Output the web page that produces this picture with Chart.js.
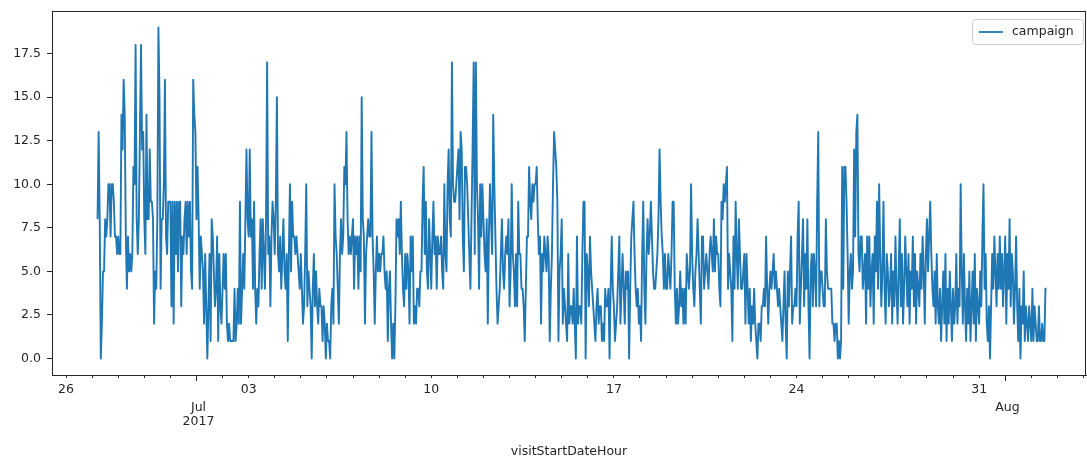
<!DOCTYPE html>
<html>
<head>
<meta charset="utf-8">
<script src="https://cdn.jsdelivr.net/npm/chart.js@4.4.1/dist/chart.umd.min.js"></script>
<style>
  html, body { margin: 0; padding: 0; background: #fff; overflow: hidden; }
</style>
</head>
<body>
<canvas id="chart" width="1087" height="463"></canvas>
<script>
// x values are hours since 2017-06-26 00:00, the series is hourly
const startHour = 29; // 2017-06-27 05:00

// campaign visits per hour in consecutive chunks
const campaignJun27 = [8,13,8,0,2,5,5,8,7,8, 10,10,7,10,10,9,7,7,6,7, 6,6,14,12,16,14,7,4,7,5,
  6,5,6,11,10,18,8,6,8,13, 18,12,13,8,6,14,8,8,12,9, 9,8,2,5,4,8,19,15,4,8,
  8,10,16,7,6,9,9,9,3,9, 2,9,6,9,5,9,9,3,7,6, 8];
const campaignJun30 = [9,6,9,7,9,5,4,16,14,13, 8,11,8,4,7,6,5,2,6,3, 0,3,6,1,8,7,5,3,4,7,
  1,6,3,2,4,6,4,6,2,1, 2,1,1,1,1,4,1,2,4,2, 9,2,4,6,4,8,12,8,7,12,
  7,8,4,9,4,2,4,3,6,8, 4,8,6,4,8,17,6,7,3,7, 9,8,6,9,15,6,5,7,4,6, 8,5];
const campaignJul04 = [4,6,1,6,10,5,9,7,7,6, 7,6,5,4,6,4,2,3,6,10, 3,5,4,3,0,4,6,3,5,3,
  2,4,3,3,1,3,2,0,2,1, 1,0,3,4,2,10,7,6,4,2, 6,8,6,7,11,10,13,8,6,7,
  6,7,8,4,7,6,7,4,7,5, 15,8,7,2,6,7,8,7,7,13, 7,5,2,5,7,5,6,5,6,6];
const campaignJul08 = [7,5,4,5,1,4,5,2,0,2, 0,3,8,7,8,6,9,6,4,3, 6,4,6,5,2,7,5,7,2,3,
  2,4,4,3,5,5,9,11,6,9, 5,4,8,6,4,7,9,6,7,4, 7,6,6,7,5,4,10,6,5,10,
  12,8,7,17,10,9,9,10,11,12, 8,13,12,7,5,11,11,10,8,6, 4,8,12,17,6,17,10,8,4];
const campaignJul11 = [10,7,10,8,6,5,8,2,7,10, 8,6,14,10,7,4,2,3,4,6, 8,5,4,6,7,6,8,3,5,10,
  6,5,3,6,3,9,6,6,4,4, 3,1,4,7,7,11,9,8,10,9, 10,10,11,8,6,7,2,6,5,7,
  6,5,7,6,1,4,6,10,13,12, 11,9,1,5,6,8,2,4,3,2, 1,6,2,3,3,2,4,2,0];
const campaignJul15 = [7,2,3,3,2,6,9,9,0,6, 5,3,7,5,4,3,2,1,3,4, 2,3,3,1,2,1,4,3,3,4,
  0,4,7,4,3,1,2,3,5,7, 2,4,6,4,2,5,4,5,0,4, 7,8,9,6,4,3,4,2,3,1,
  6,9,4,2,6,8,6,7,9,7, 5,4,4,5,6,8,12,9,7,6, 4,6,4,4,6,5,4,6,9];
const campaignJul19 = [9,4,2,4,2,3,5,3,4,2, 4,2,6,5,4,5,10,6,4,3, 5,6,8,6,4,2,7,7,4,5,
  6,5,4,6,7,6,5,8,5,7, 6,6,4,3,9,8,10,9,10,11, 4,6,5,4,1,7,4,9,6,4,
  8,6,4,4,5,6,2,6,4,2, 4,1,3,2,4,2,1,0,2,2, 1,3,3,4,3,7,4,2,4,5];
const campaignJul23 = [4,5,6,4,5,4,3,4,3,2, 1,3,5,2,0,5,3,5,7,2, 3,3,4,3,7,9,2,4,6,8,
  3,6,4,8,3,0,5,6,3,6, 5,3,9,13,3,5,5,4,3,3, 8,5,4,4,4,4,2,2,1,2,
  2,0,1,0,1,11,4,11,11,9, 6,2,5,6,4,5,12,7,13,14, 6,5,7,7,4,5,6,2,7];
const campaignJul26 = [4,7,3,5,6,2,7,5,9,4, 10,6,3,5,9,4,2,6,5,3, 4,6,2,5,3,7,4,2,5,
  8,3,6,2,4,7,5,3,6, 2,5,4,7,3,6,2,5,4,3, 6,4,7,5,2,6,8,5,7, 9,6,4,3,5,2,6,3,2,
  4,1,3,5,2,6,1,4,2, 5,3,1,4,2,3,6,2,4, 3,10,5,2,6,3,1,4,2,5, 1,3,5,2,6,1,4,3,2,
  5,3,7,10,4,6,2,1,3, 0,3,6,4,7,5,3,6,4, 7,4,6,3,5,7,2,6,4, 8,3,6,5,2,4,7,3,1,
  4,0,3,2,5,1,3,2,1,3, 2,1,4,1,3,2,1,1,3, 1,1,2,1,1,4,4];

// axis ticks
const weekTickHours = [0, 168, 336, 504, 672, 840];
const weekTickLabels = ['26', '03', '10', '17', '24', '31'];
const monthTickHours = [120, 864];
const monthTickLabels = [['Jul', '2017'], ['Aug']];
const yTicks = [0, 2.5, 5, 7.5, 10, 12.5, 15, 17.5];

const campaign = [].concat(campaignJun27, campaignJun30, campaignJul04, campaignJul08,
  campaignJul11, campaignJul15, campaignJul19, campaignJul23, campaignJul26);
const points = campaign.map((v, i) => ({ x: startHour + i, y: v }));

const dayHours = [];
for (let h = 0; h <= 936; h += 24) dayHours.push(h);

const INK = '#262626';
const FONT = 'DejaVu Sans, sans-serif';
const LINE = '#1f77b4';

// box round the axes, month ticks + labels, and the framed legend
const framePlugin = {
  id: 'frame',
  afterDraw(chart) {
    const { ctx, chartArea: a, scales } = chart;
    ctx.save();
    ctx.strokeStyle = INK;
    ctx.lineWidth = 1;
    ctx.strokeRect(Math.round(a.left) + 0.5, Math.round(a.top) + 0.5,
      Math.round(a.right - a.left) - 1, Math.round(a.bottom - a.top));

    // major month ticks
    ctx.fillStyle = INK;
    ctx.font = '12.5px ' + FONT;
    ctx.textAlign = 'center';
    ctx.textBaseline = 'middle';
    monthTickHours.forEach((h, i) => {
      const x = Math.round(scales.x.getPixelForValue(h)) + 0.5;
      ctx.beginPath();
      ctx.moveTo(x, a.bottom);
      ctx.lineTo(x, a.bottom + 6);
      ctx.stroke();
      monthTickLabels[i].forEach((t, j) => ctx.fillText(t, x + 2, 408 + j * 14));
    });

    // legend
    const ds = chart.data.datasets[0];
    ctx.beginPath();
    ctx.roundRect(972.5, 19.5, 111, 25, 3);
    ctx.fillStyle = 'rgba(255,255,255,0.8)';
    ctx.fill();
    ctx.strokeStyle = '#cccccc';
    ctx.stroke();
    ctx.beginPath();
    ctx.strokeStyle = ds.borderColor;
    ctx.lineWidth = 1.8;
    ctx.moveTo(979, 32);
    ctx.lineTo(1003, 32);
    ctx.stroke();
    ctx.fillStyle = INK;
    ctx.textAlign = 'left';
    ctx.fillText(ds.label, 1012, 32);
    ctx.restore();
  },
};

new Chart(document.getElementById('chart'), {
  type: 'line',
  data: {
    datasets: [
      {
        label: 'campaign',
        data: points,
        borderColor: LINE,
        borderWidth: 1.9,
        borderJoinStyle: 'round',
        pointRadius: 0,
        tension: 0,
        fill: false,
      },
    ],
  },
  options: {
    responsive: false,
    animation: false,
    layout: { padding: { top: 11, right: 1, left: 0, bottom: 0 } },
    plugins: {
      legend: { display: false },
      tooltip: { enabled: false },
    },
    scales: {
      x: {
        type: 'linear',
        min: -12.9,
        max: 938.3,
        afterBuildTicks(scale) {
          scale.ticks = dayHours.map((v) => ({ value: v }));
        },
        afterFit(scale) {
          scale.height = 88;
          scale.paddingLeft = 0;
          scale.paddingRight = 0;
        },
        grid: { drawOnChartArea: false, drawTicks: true, tickLength: 3, color: INK },
        border: { color: INK, width: 1 },
        ticks: {
          autoSkip: false,
          maxRotation: 0,
          padding: 4,
          color: INK,
          font: { family: FONT, size: 12.5 },
          callback(value) {
            const i = weekTickHours.indexOf(value);
            return i >= 0 ? weekTickLabels[i] : '';
          },
        },
        title: {
          display: true,
          text: 'visitStartDateHour',
          color: INK,
          font: { family: FONT, size: 12.5 },
          padding: { top: 0, bottom: 3.5 },
        },
      },
      y: {
        min: -0.95,
        max: 19.95,
        afterBuildTicks(scale) {
          scale.ticks = yTicks.map((v) => ({ value: v }));
        },
        afterFit(scale) {
          scale.width = 52;
          scale.paddingTop = 0;
          scale.paddingBottom = 0;
        },
        grid: { drawOnChartArea: false, drawTicks: true, tickLength: 5, color: INK },
        border: { color: INK, width: 1 },
        ticks: {
          padding: 6,
          color: INK,
          font: { family: FONT, size: 12.5 },
          callback: (v) => v.toFixed(1),
        },
      },
    },
  },
  plugins: [framePlugin],
});
</script>
</body>
</html>
